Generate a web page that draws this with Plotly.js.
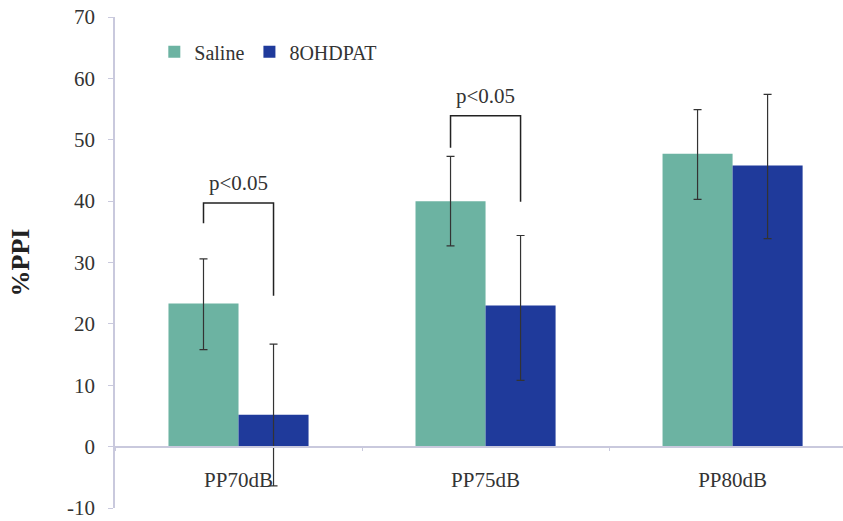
<!DOCTYPE html>
<html>
<head>
<meta charset="utf-8">
<script src="https://cdn.plot.ly/plotly-3.0.1.min.js"></script>
<style>html,body{margin:0;padding:0;background:#fff;}#chart{width:843px;height:521px;}</style>
</head>
<body>
<div id="chart"></div>
<script>
var categories = ["PP70dB", "PP75dB", "PP80dB"];
var salineValues = [23.3, 40.0, 47.7];
var salineErrPlus = [7.3, 7.3, 7.2];
var salineErrMinus = [7.5, 7.3, 7.4];
var ohdpatValues = [5.2, 23.0, 45.8];
var ohdpatErrPlus = [11.5, 11.4, 11.6];
var ohdpatErrMinus = [11.6, 12.2, 11.9];
var seriesNames = ["Saline", "8OHDPAT"];
var yTicks = [-10, 0, 10, 20, 30, 40, 50, 60, 70];

// significance brackets (category index, bracket top, left leg end, right leg end)
var bracketCats = [0, 1];
var bracketTop = [39.7, 53.9];
var bracketLeftEnd = [36.4, 48.7];
var bracketRightEnd = [24.6, 39.9];
var bracketLabels = ["p&lt;0.05", "p&lt;0.05"];

var colSaline = "#6CB3A2";
var colOH = "#1F3A9B";
var axisCol = "#c9c9dd";
var textCol = "#333333";
var fontFam = "Liberation Serif";

var bargap = 0.433;
var barOffset = (1 - bargap) / 4;

var traces = [
  {
    type: "bar", name: seriesNames[0], x: categories, y: salineValues,
    marker: {color: colSaline},
    error_y: {type: "data", symmetric: false, array: salineErrPlus, arrayminus: salineErrMinus,
              color: "#333", thickness: 1.2, width: 4}
  },
  {
    type: "bar", name: seriesNames[1], x: categories, y: ohdpatValues,
    marker: {color: colOH},
    error_y: {type: "data", symmetric: false, array: ohdpatErrPlus, arrayminus: ohdpatErrMinus,
              color: "#333", thickness: 1.2, width: 4}
  }
];

var shapes = [];
var annotations = [];
for (var i = 0; i < bracketCats.length; i++) {
  var c = bracketCats[i];
  var xl = c - barOffset, xr = c + barOffset;
  shapes.push({
    type: "path", xref: "x", yref: "y",
    path: "M" + xl + "," + bracketLeftEnd[i] + " L" + xl + "," + bracketTop[i] +
          " L" + xr + "," + bracketTop[i] + " L" + xr + "," + bracketRightEnd[i],
    line: {color: "#222", width: 1.5}
  });
  annotations.push({
    xref: "x", yref: "y", x: c, y: bracketTop[i], text: bracketLabels[i],
    showarrow: false, yanchor: "bottom", yshift: 6,
    font: {family: fontFam, size: 21, color: textCol}
  });
}

var layout = {
  width: 843, height: 521,
  margin: {l: 115, r: 0, t: 17, b: 13},
  paper_bgcolor: "#fff", plot_bgcolor: "#fff",
  barmode: "group", bargap: bargap, bargroupgap: 0,
  showlegend: true,
  legend: {orientation: "h", x: 0.054, xanchor: "left", y: 0.929, yanchor: "middle",
           font: {family: fontFam, size: 20, color: textCol}, bgcolor: "rgba(0,0,0,0)",
           traceorder: "normal", itemwidth: 30},
  xaxis: {
    type: "category", range: [-0.5, 2.447],
    anchor: "free", position: 0.125,
    showline: true, linecolor: axisCol, linewidth: 1.5,
    ticks: "outside", tickson: "boundaries", ticklen: 4, tickcolor: axisCol,
    ticklabelstandoff: 14,
    showgrid: false, zeroline: false,
    tickfont: {family: fontFam, size: 21, color: textCol}
  },
  yaxis: {
    range: [-10, 70], tickvals: yTicks, ticktext: yTicks.map(String),
    showline: true, linecolor: axisCol, linewidth: 1.5,
    ticks: "outside", ticklen: 5, tickcolor: axisCol,
    ticklabelstandoff: 9,
    showgrid: false, zeroline: false,
    tickfont: {family: fontFam, size: 21, color: textCol},
    title: {text: "<b>%PPI</b>", font: {family: fontFam, size: 26, color: "#222"}, standoff: 30}
  },
  shapes: shapes,
  annotations: annotations
};

Plotly.newPlot("chart", traces, layout, {displayModeBar: false});
</script>
</body>
</html>
